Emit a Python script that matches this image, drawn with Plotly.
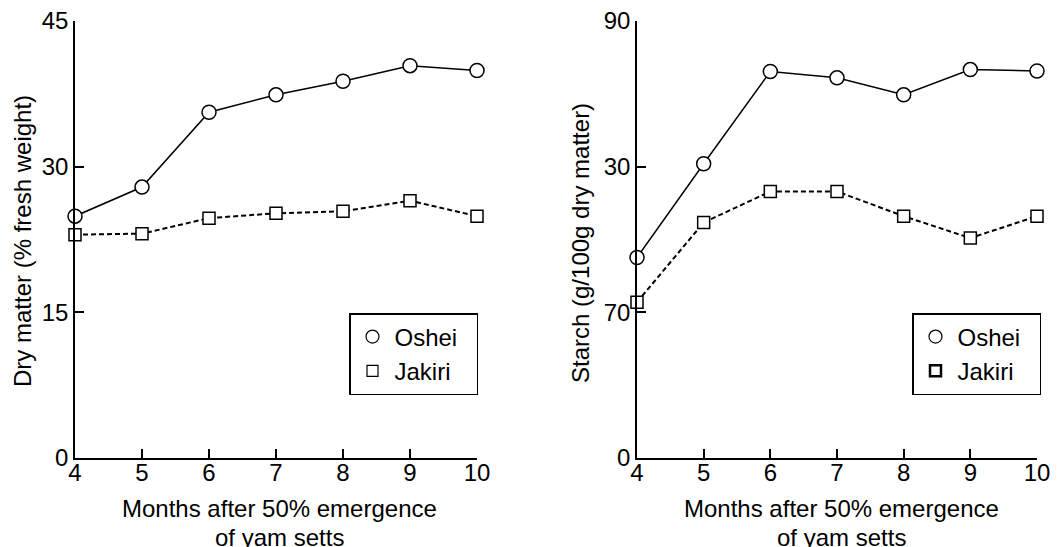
import plotly.graph_objects as go

months = [4, 5, 6, 7, 8, 9, 10]
dry_oshei = [24.9, 27.9, 35.6, 37.4, 38.8, 40.4, 39.9]
dry_jakiri = [23.0, 23.1, 24.7, 25.2, 25.4, 26.5, 24.9]
# right panel plotted on the printed (0..90 position) scale
starch_oshei = [41.3, 60.6, 79.6, 78.3, 74.8, 80.0, 79.7]
starch_jakiri = [32.1, 48.5, 54.9, 54.9, 49.8, 45.3, 49.8]

left_ticks = [0, 15, 30, 45]
left_ticktext = ["0", "15", "30", "45"]
right_ticks = [0, 30, 60, 90]
right_ticktext = ["0", "70", "30", "90"]
series_names = ["Oshei", "Jakiri"]

FONT = "Liberation Sans, Arial, sans-serif"
FS = 24
W, H = 1060, 547
OFF = 8  # page body margin
PAD = "\u00a0\u00a0"


def px(x):
    return (x - OFF) / W


def py(y):
    return (H - (y - OFF)) / H


fig = go.Figure()


def add_panel(xa, ya, yo, yj, legend):
    fig.add_trace(go.Scatter(x=months, y=yo, mode="lines+markers", xaxis=xa, yaxis=ya,
                             line=dict(color="black", width=1.5),
                             marker=dict(symbol="circle", size=14, color="white",
                                         line=dict(color="black", width=1.5)),
                             cliponaxis=False, showlegend=False))
    fig.add_trace(go.Scatter(x=months, y=yj, mode="lines+markers", xaxis=xa, yaxis=ya,
                             line=dict(color="black", width=2, dash="5px,3px"),
                             marker=dict(symbol="square", size=12, color="white",
                                         line=dict(color="black", width=1.5)),
                             cliponaxis=False, showlegend=False))
    fig.add_trace(go.Scatter(x=[None], y=[None], mode="markers", xaxis=xa, yaxis=ya,
                             name=series_names[0] + PAD, legend=legend,
                             marker=dict(symbol="circle", size=13, color="white",
                                         line=dict(color="black", width=1.2))))
    fig.add_trace(go.Scatter(x=[None], y=[None], mode="markers", xaxis=xa, yaxis=ya,
                             name=series_names[1], legend=legend,
                             marker=dict(symbol="square", size=11, color="white",
                                         line=dict(color="black",
                                                   width=1.2 if legend == "legend" else 2.5))))


add_panel("x", "y", dry_oshei, dry_jakiri, "legend")
add_panel("x2", "y2", starch_oshei, starch_jakiri, "legend2")

ydom = [py(458), py(21)]

axis_common = dict(showline=True, linecolor="black", linewidth=1.5, ticks="inside",
                   ticklen=9, tickwidth=1.5, tickcolor="black", showgrid=False,
                   zeroline=False, automargin=False, ticklabeloverflow="allow",
                   tickfont=dict(family=FONT, size=FS, color="black"))

leg_common = dict(xanchor="left", yanchor="top", bordercolor="black", borderwidth=1.5,
                  bgcolor="white", font=dict(family=FONT, size=FS, color="black"),
                  itemwidth=34, tracegroupgap=0)

fig.update_layout(
    width=W, height=H, margin=dict(l=0, r=0, t=0, b=0, autoexpand=False),
    paper_bgcolor="white", plot_bgcolor="white",
    xaxis=dict(domain=[px(75), px(477)], range=[4, 10], tickvals=months, anchor="y",
               ticklabelstandoff=-8, **axis_common),
    yaxis=dict(domain=ydom, range=[0, 45], tickvals=left_ticks, ticktext=left_ticktext,
               anchor="x", **axis_common),
    xaxis2=dict(domain=[px(637), px(1037)], range=[4, 10], tickvals=months, anchor="y2",
                ticklabelstandoff=-8, **axis_common),
    yaxis2=dict(domain=ydom, range=[0, 90], tickvals=right_ticks, ticktext=right_ticktext,
                anchor="x2", **axis_common),
    legend=dict(x=px(349), y=py(313), **leg_common),
    legend2=dict(x=px(912), y=py(313), **leg_common),
)

ann_font = dict(family=FONT, size=FS, color="black")
for cx in (279, 841):
    fig.add_annotation(x=px(cx), y=py(508), xref="paper", yref="paper",
                       text="Months after 50% emergence",
                       xanchor="center", yanchor="middle", showarrow=False, font=ann_font)
    fig.add_annotation(x=px(cx), y=py(537), xref="paper", yref="paper",
                       text="of yam setts",
                       xanchor="center", yanchor="middle", showarrow=False, font=ann_font)
fig.add_annotation(x=px(22), y=py(241), xref="paper", yref="paper",
                   text="Dry matter (% fresh weight)", textangle=-90,
                   xanchor="center", yanchor="middle", showarrow=False, font=ann_font)
fig.add_annotation(x=px(580), y=py(243), xref="paper", yref="paper",
                   text="Starch (g/100g dry matter)", textangle=-90,
                   xanchor="center", yanchor="middle", showarrow=False, font=ann_font)

fig.write_html("out.html")
